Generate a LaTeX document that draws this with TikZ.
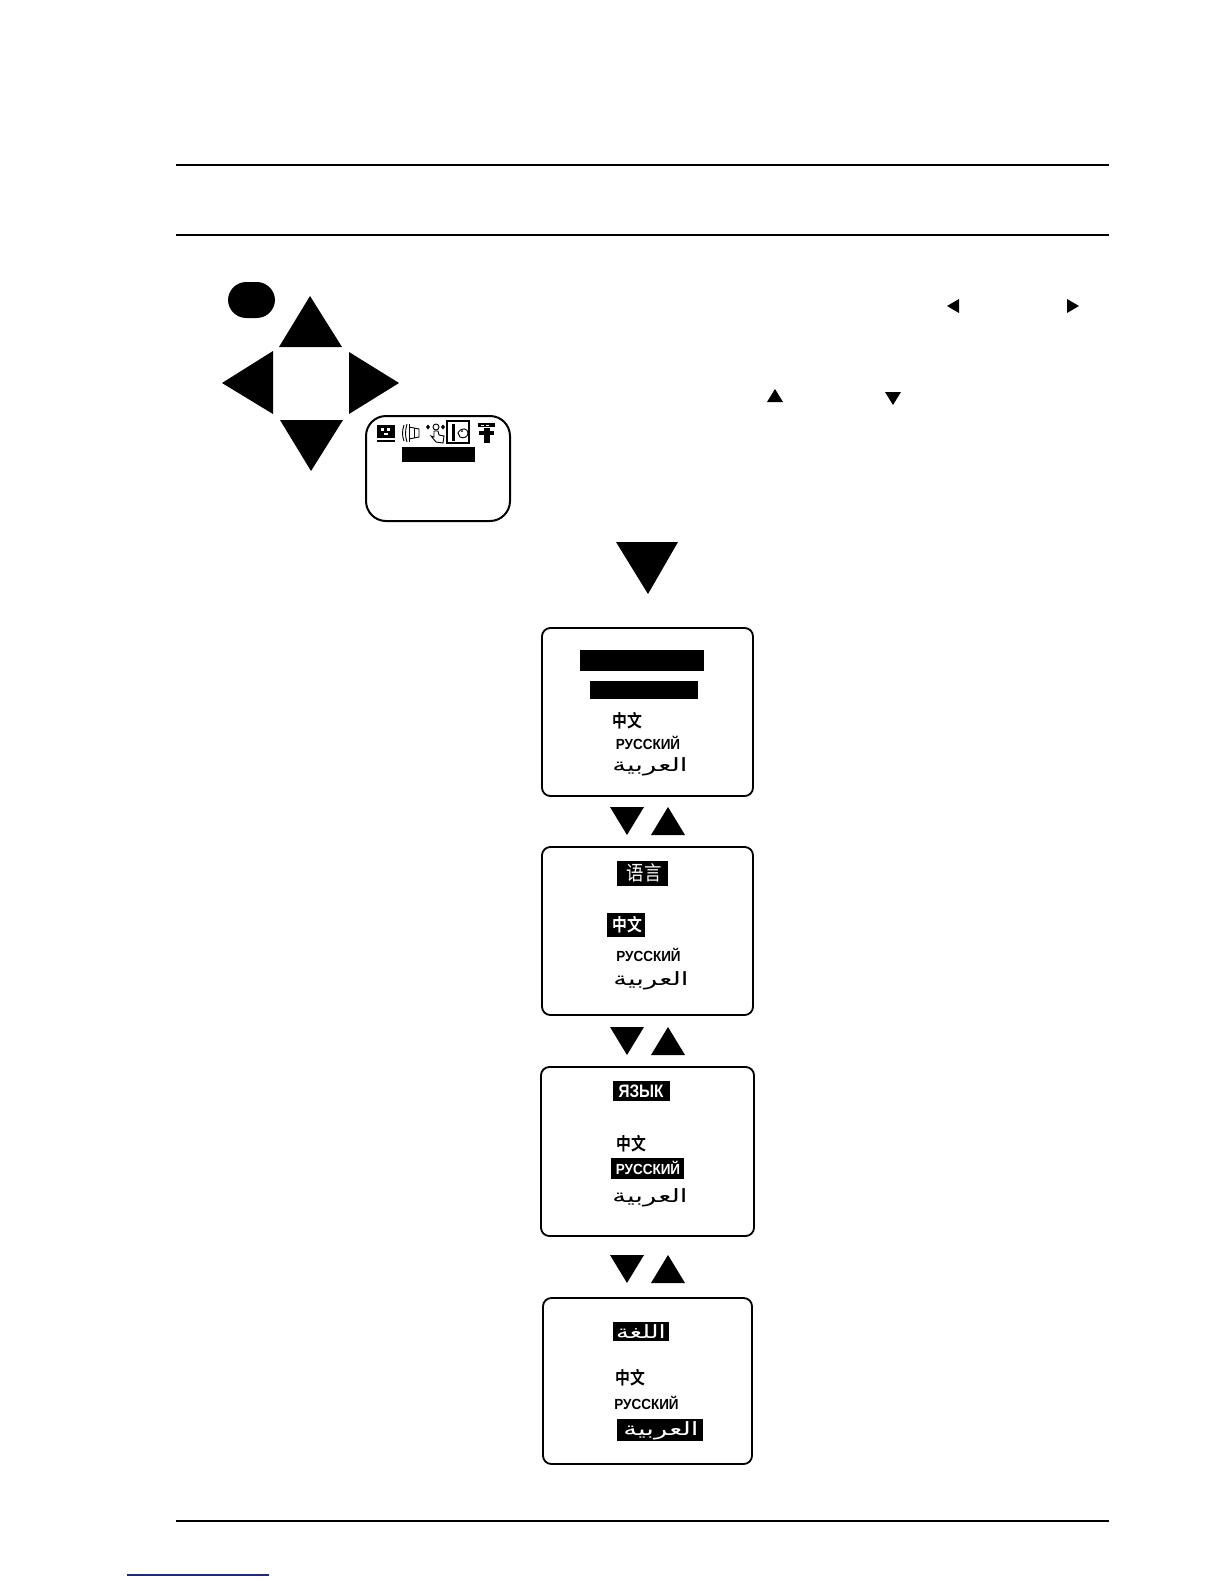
\documentclass[tikz,border=0pt]{standalone}
\usepackage{graphicx}
\usepackage{fontspec}
\setmainfont{DejaVu Sans}
\newfontfamily\cjkf{Noto Sans CJK SC}[BoldFont={* Bold}]
\newfontfamily\arabf[Script=Arabic]{DejaVu Sans}
\newfontfamily\rusf{Liberation Sans}
\TeXXeTstate=1
\tikzset{
  panel/.style={draw=black,line width=1.1pt,rounded corners=5pt,fill=white},
  tri/.style={fill=black,draw=none},
  bar/.style={fill=black,draw=none},
  rule/.style={draw=black,line width=1.2pt},
  lbl/.style={inner sep=0pt,anchor=center,text=black},
  wlbl/.style={inner sep=0pt,anchor=center,text=white},
  ico/.style={draw=black,line width=.55pt},
}
\newcommand{\zh}[1]{\scalebox{.84}[1]{\fontsize{10.6}{11}\selectfont\cjkf\bfseries #1}}
\newcommand{\zht}[1]{\scalebox{.87}[1]{\fontsize{12}{12}\selectfont\cjkf #1}}
\newcommand{\ru}[1]{\scalebox{.92}[1]{\fontsize{8.8}{10}\selectfont\rusf\bfseries #1}}
\newcommand{\rut}[1]{\scalebox{.85}[1]{\fontsize{10.8}{11}\selectfont\rusf\bfseries #1}}
\newcommand{\ar}[1]{\scalebox{1.5}[1]{\fontsize{11}{12}\selectfont\arabf\beginR #1\endR}}
\newcommand{\art}[1]{\scalebox{1.4}[1]{\fontsize{11}{12}\selectfont\arabf\beginR #1\endR}}
\begin{document}
\begin{tikzpicture}[x=0.6pt,y=-0.6pt]
\useasboundingbox (0,0) rectangle (1224,1584);
% page rules
\coordinate (r1a) at (176,164.5); \coordinate (r1b) at (1109,164.5);
\coordinate (r2a) at (176,235); \coordinate (r2b) at (1109,235);
\coordinate (r3a) at (176,1521); \coordinate (r3b) at (1109,1521);
\coordinate (r4a) at (127,1575); \coordinate (r4b) at (269,1575);
\draw[rule] (r1a)--(r1b);
\draw[rule] (r2a)--(r2b);
\draw[rule] (r3a)--(r3b);
\draw[draw={rgb,255:red,30;green,40;blue,140},line width=.7pt] (r4a)--(r4b);
% remote pad
\fill[black,rounded corners=11pt] (228,282) rectangle (275,318);
\fill[tri] (310,296)--(342,347)--(279,347)--cycle;
\fill[tri] (222,383)--(273,351)--(273,414)--cycle;
\fill[tri] (399,383)--(349,352)--(349,414)--cycle;
\fill[tri] (311,471)--(280,420)--(343,420)--cycle;
% small text triangles
\fill[tri] (947,306)--(959,299)--(959,313)--cycle;
\fill[tri] (1079,306)--(1067,299)--(1067,313)--cycle;
\fill[tri] (775,389)--(783,402)--(767,402)--cycle;
\fill[tri] (893,405)--(885,392)--(901,392)--cycle;
% menu panel
\draw[panel,line width=1.2pt,rounded corners=12pt] (366,416) rectangle (510,521);
\fill[bar] (402,447) rectangle (475,462);
% icon 1: picture
\fill[black] (377,425) rectangle (395,438);
\fill[black] (377,440) rectangle (395,442);
\fill[white] (381,428) rectangle (384,431);
\fill[white] (387,428) rectangle (390,431);
\fill[white] (384,433) rectangle (388,435);
% icon 2: sound
\draw[ico] (404,425) .. controls (402,431) and (402,436) .. (404,441);
\draw[ico] (407,424) .. controls (405,431) and (405,436) .. (407,442);
\draw[ico] (409,424) -- (409,442);
\draw[ico] (409,427) -- (419,429) -- (419,437) -- (409,439);
\draw[ico] (414,428) -- (414,438);
% icon 3: function (hand)
\fill[black] (428,424.5)--(430,427)--(428,429.5)--(426,427)--cycle;
\fill[black] (443,424.5)--(445,427)--(443,429.5)--(441,427)--cycle;
\draw[ico] (436,427) circle (3);
\draw[ico] (434,431)--(438,431)--(439,435)--(444,436)--(443,443)--(436,442)--(431,436)--(434,437)--cycle;
% icon 4: language (selected)
\draw[draw=black,line width=.8pt] (447,421) rectangle (469,443);
\fill[black] (452,424) rectangle (455,441);
\draw[ico] (458,433) .. controls (461,427) and (468,428) .. (468,433) .. controls (468,437) and (463,439) .. (460,437) -- cycle;
\fill[black] (462,431) circle (1);
% icon 5: setup
\fill[black] (478,423) rectangle (495,427);
\fill[white] (481,424.5) rectangle (484,425.5);
\fill[white] (486,424.5) rectangle (489,425.5);
\fill[black] (479,431) rectangle (494,435);
\fill[black] (483.5,428) rectangle (490,443);
% big arrow
\fill[tri] (648,594)--(616,542)--(678,542)--cycle;
% panel 1
\draw[panel] (542,628) rectangle (753,796);
\fill[bar] (580,650) rectangle (704,671);
\fill[bar] (590,681) rectangle (698,699);
\node[lbl] (p1zh) at (627,721) {\zh{中文}};
\node[lbl] (p1ru) at (648,743) {\ru{РУССКИЙ}};
\node[lbl] (p1ar) at (650,767) {\ar{العربية}};
% arrows 1
\fill[tri] (627,835)--(610,807)--(644,807)--cycle;
\fill[tri] (668,807)--(651,835)--(685,835)--cycle;
% panel 2
\draw[panel] (542,847) rectangle (753,1015);
\fill[bar] (617,861) rectangle (668,886);
\node[wlbl] (p2t) at (644,873) {\zht{语言}};
\fill[bar] (607,913) rectangle (645,937);
\node[wlbl] (p2zh) at (627,925) {\zh{中文}};
\node[lbl] (p2ru) at (648.5,955) {\ru{РУССКИЙ}};
\node[lbl] (p2ar) at (651,981) {\ar{العربية}};
% arrows 2
\fill[tri] (627,1055)--(610,1027)--(644,1027)--cycle;
\fill[tri] (668,1027)--(651,1055)--(685,1055)--cycle;
% panel 3
\draw[panel] (541,1067) rectangle (754,1236);
\fill[bar] (613,1081) rectangle (670,1101);
\node[wlbl] (p3t) at (641,1091) {\rut{ЯЗЫК}};
\node[lbl] (p3zh) at (631,1144) {\zh{中文}};
\fill[bar] (611,1158) rectangle (684,1179);
\node[wlbl] (p3ru) at (648,1168) {\ru{РУССКИЙ}};
\node[lbl] (p3ar) at (650,1198) {\ar{العربية}};
% arrows 3
\fill[tri] (627,1283)--(610,1255)--(644,1255)--cycle;
\fill[tri] (668,1255)--(651,1283)--(685,1283)--cycle;
% panel 4
\draw[panel] (543,1298) rectangle (752,1464);
\fill[bar] (613,1322) rectangle (669,1341);
\node[wlbl] (p4t) at (641,1332) {\art{اللغة}};
\node[lbl] (p4zh) at (630.5,1378) {\zh{中文}};
\node[lbl] (p4ru) at (646.5,1402.5) {\ru{РУССКИЙ}};
\fill[bar] (617,1419) rectangle (703,1441);
\node[wlbl] (p4ar) at (661,1431) {\ar{العربية}};
\end{tikzpicture}
\end{document}
